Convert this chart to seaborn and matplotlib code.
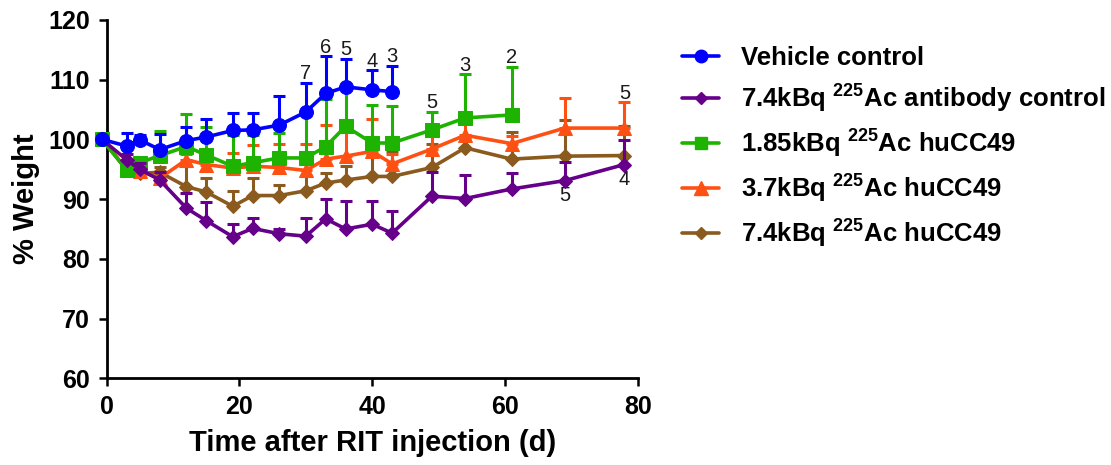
import numpy as np
import pandas as pd
import seaborn as sns
import matplotlib.pyplot as plt
from matplotlib.lines import Line2D

# days after injection (baseline drawn just left of 0)
days = [-0.7, 3, 5, 8, 12, 15, 19, 22, 26, 30, 33, 36, 40, 43, 49, 54, 61, 69, 78]

# mean % weight and top of error bar, per group
vehicle = [100, 98.9, 99.9, 98.3, 99.8, 100.4, 101.5, 101.6, 102.4, 104.6, 107.7, 108.8, 108.3, 108.0]
vehicle_up = [100, 101.1, 100.8, 100.9, 102.1, 103.5, 104.4, 104.5, 107.2, 109.5, 113.9, 113.5, 111.6, 112.3]

ab_ctrl = [100, 96.6, 95.0, 93.2, 88.5, 86.4, 83.7, 85.1, 84.2, 83.8, 86.7, 85.0, 85.8, 84.3, 90.5, 90.1, 91.7, 93.1, 95.8]
ab_ctrl_up = [100, 97.5, 96.0, 94.5, 91.0, 89.5, 85.9, 86.8, 85.0, 86.9, 90.0, 89.7, 89.7, 88.0, 94.6, 94.1, 94.3, 96.2, 99.9]

dose185 = [100, 94.9, 96.1, 97.3, 98.8, 97.4, 95.5, 96.1, 96.9, 96.9, 98.8, 102.2, 99.4, 99.4, 101.6, 103.6, 104.1]
dose185_up = [100, 95.5, 96.8, 101.4, 104.2, 102.1, 100.8, 100.8, 101.0, 104.2, 106.8, 108.6, 105.8, 105.6, 104.6, 110.9, 112.2]

dose37 = [100, 95.0, 94.7, 93.5, 96.6, 95.8, 95.2, 95.5, 95.3, 94.8, 96.7, 97.2, 98.0, 95.9, 98.4, 100.7, 99.3, 101.9, 101.9]
dose37_up = [100, 95.5, 95.5, 94.5, 97.5, 96.8, 97.7, 99.1, 99.2, 99.2, 102.4, 102.0, 103.4, 97.5, 100.5, 104.5, 100.5, 107.0, 106.2]

dose74 = [100, 95.0, 94.3, 94.5, 92.1, 91.2, 88.8, 90.6, 90.6, 91.4, 92.7, 93.2, 93.8, 93.8, 95.3, 98.6, 96.7, 97.2, 97.3]
dose74_up = [100, 95.5, 95.0, 95.3, 95.5, 93.6, 91.3, 93.5, 92.4, 93.8, 94.4, 95.5, 97.5, 98.0, 99.2, 100.0, 101.2, 103.2, 102.3]

labels = ['Vehicle control',
          '7.4kBq $^{225}$Ac antibody control',
          '1.85kBq $^{225}$Ac huCC49',
          '3.7kBq $^{225}$Ac huCC49',
          '7.4kBq $^{225}$Ac huCC49']
colors = ['#0000FF', '#66008A', '#1DB300', '#FF5014', '#8B5A1E']
markers = ['o', 'D', 's', '^', 'D']
msizes = [10, 7, 9.5, 10.5, 7]
means = [vehicle, ab_ctrl, dose185, dose37, dose74]
uppers = [vehicle_up, ab_ctrl_up, dose185_up, dose37_up, dose74_up]

# n labels: (group index, day, text, above/below)
n_labels = [(0, 30, '7', 'up'), (0, 33, '6', 'up'), (0, 36, '5', 'up'),
            (0, 40, '4', 'up'), (0, 43, '3', 'up'),
            (2, 49, '5', 'up'), (2, 54, '3', 'up'), (2, 61, '2', 'up'),
            (3, 78, '5', 'up'),
            (1, 69, '5', 'down'), (1, 78, '4', 'down')]

sns.set_style('ticks')
plt.rcParams['font.family'] = ['Liberation Sans', 'DejaVu Sans']
plt.rcParams['font.weight'] = 'bold'
plt.rcParams['mathtext.fontset'] = 'custom'
plt.rcParams['mathtext.rm'] = 'Liberation Sans:bold'
plt.rcParams['mathtext.it'] = 'Liberation Sans:bold'
plt.rcParams['mathtext.bf'] = 'Liberation Sans:bold'
plt.rcParams['mathtext.default'] = 'rm'
for key in ['text.color', 'axes.labelcolor', 'xtick.color', 'ytick.color', 'axes.edgecolor']:
    plt.rcParams[key] = 'black'

fig = plt.figure(figsize=(11.11, 4.65), dpi=100)
ax = fig.add_axes([0.096, 0.1865, 0.478, 0.7705])

# draw last group first so vehicle ends on top
for i in [4, 3, 2, 1, 0]:
    n = len(means[i])
    x = np.array(days[:n])
    m = np.array(means[i])
    up = np.array(uppers[i])
    z = 3 + (4 - i) * 2
    ax.errorbar(x, m, yerr=[np.zeros(n), up - m], fmt='none', ecolor=colors[i],
                elinewidth=2.2, capsize=4.5, capthick=2.2, zorder=z, clip_on=False)
    df = pd.DataFrame({'day': x, 'weight': m})
    sns.lineplot(data=df, x='day', y='weight', color=colors[i], marker=markers[i],
                 markersize=msizes[i], markeredgecolor=colors[i], linewidth=2.6,
                 estimator=None, errorbar=None, ax=ax, zorder=z + 1, clip_on=False)

for gi, d, txt, pos in n_labels:
    k = days.index(d)
    if pos == 'up':
        ax.annotate(txt, (d, uppers[gi][k]), xytext=(0, 6.5), textcoords='offset points',
                    ha='center', va='center', fontsize=14.5, fontweight='normal', color='#1a1a1a')
    else:
        ax.annotate(txt, (d, means[gi][k]), xytext=(0, -11), textcoords='offset points',
                    ha='center', va='center', fontsize=14.5, fontweight='normal', color='#1a1a1a')

ax.set_xlim(0, 80)
ax.set_ylim(60, 120)
ax.set_xticks([0, 20, 40, 60, 80])
ax.set_yticks([60, 70, 80, 90, 100, 110, 120])
sns.despine(ax=ax)
for s in ['left', 'bottom']:
    ax.spines[s].set_linewidth(2)
ax.tick_params(direction='out', length=6, width=1.8, labelsize=18, pad=6, color='black')
ax.set_xlabel('Time after RIT injection (d)', fontsize=21, fontweight='bold', labelpad=7)
ax.set_ylabel('% Weight', fontsize=21, fontweight='bold', labelpad=6)

handles = [Line2D([], [], color=colors[i], marker=markers[i], markersize=msizes[i] * 0.9,
                  markeredgecolor=colors[i], linewidth=2.6) for i in range(5)]
fig.legend(handles, labels, loc='upper left', bbox_to_anchor=(0.614, 0.902),
           frameon=False, fontsize=18.5, handlelength=1.45, handletextpad=0.85,
           labelspacing=0.5, borderpad=0, borderaxespad=0)

plt.savefig('out.png', dpi=100)
